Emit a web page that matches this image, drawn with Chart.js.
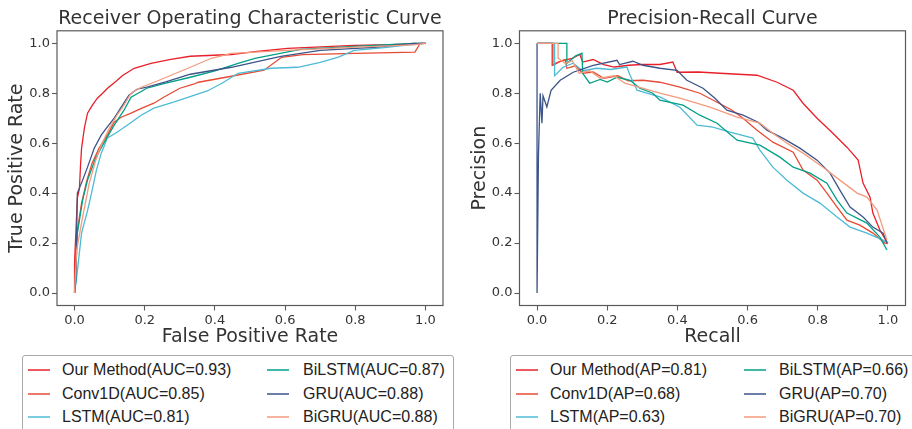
<!DOCTYPE html>
<html><head><meta charset="utf-8">
<script src="https://cdn.jsdelivr.net/npm/chart.js@4/dist/chart.umd.min.js"></script>
<style>
html,body{margin:0;padding:0;background:#fff;width:912px;height:429px;overflow:hidden;}
#wrap{position:relative;width:912px;height:429px;}
.cv{position:absolute;top:0;width:456px;height:350px;}
.legend{position:absolute;top:355px;height:90px;border:1px solid #a8a8a8;border-radius:3px;background:#fff;box-sizing:border-box;}
.lg-line{position:absolute;height:2px;opacity:0.75;}
.lg-text{position:absolute;font-family:'Liberation Sans',Arial,sans-serif;font-size:16px;color:#222;white-space:nowrap;line-height:20px;}
</style></head>
<body><div id="wrap">
<div class="cv" style="left:0"><canvas id="roc" width="456" height="350"></canvas></div>
<div class="cv" style="left:456px"><canvas id="pr" width="456" height="350"></canvas></div>
</div>
<script>
// ---- data ----
const modelNames = ['Our Method','Conv1D','LSTM','BiLSTM','GRU','BiGRU'];
const modelColors = ['#e8202a','#e64b35','#4dbbd5','#00a087','#3c5488','#f39b7f'];
const aucValues = ['0.93','0.85','0.81','0.87','0.88','0.88'];
const apValues = ['0.81','0.68','0.63','0.66','0.70','0.70'];
const tickValues = [0.0,0.2,0.4,0.6,0.8,1.0];

// ROC: [fpr, tpr]
const rocOurMethod = [[0,0],[0,0.12],[0.008,0.38],[0.014,0.42],[0.017,0.51],[0.02,0.58],[0.028,0.66],[0.037,0.72],[0.05,0.75],[0.065,0.78],[0.08,0.80],[0.094,0.82],[0.12,0.85],[0.136,0.87],[0.17,0.90],[0.218,0.92],[0.274,0.936],[0.33,0.948],[0.447,0.955],[0.52,0.968],[0.607,0.98],[0.797,0.992],[0.9,0.995],[1,1]];
const rocConv1D = [[0,0],[0.002,0.12],[0.008,0.25],[0.02,0.36],[0.035,0.45],[0.05,0.52],[0.07,0.58],[0.093,0.632],[0.113,0.684],[0.133,0.704],[0.161,0.72],[0.192,0.74],[0.226,0.76],[0.254,0.784],[0.3,0.82],[0.339,0.836],[0.353,0.844],[0.447,0.868],[0.54,0.892],[0.59,0.944],[0.65,0.955],[0.8,0.96],[0.97,0.965],[0.985,1],[1,1]];
const rocLSTM = [[0,0],[0.005,0.05],[0.02,0.24],[0.037,0.33],[0.05,0.41],[0.062,0.49],[0.076,0.56],[0.085,0.59],[0.093,0.62],[0.121,0.644],[0.15,0.672],[0.19,0.712],[0.226,0.74],[0.282,0.764],[0.325,0.784],[0.38,0.81],[0.42,0.84],[0.466,0.88],[0.56,0.9],[0.636,0.904],[0.70,0.924],[0.75,0.944],[0.797,0.972],[0.89,0.984],[0.94,0.992],[1,1]];
const rocBiLSTM = [[0,0],[0.003,0.05],[0.008,0.24],[0.023,0.372],[0.037,0.452],[0.06,0.54],[0.085,0.604],[0.113,0.672],[0.141,0.732],[0.161,0.784],[0.206,0.82],[0.26,0.84],[0.33,0.864],[0.4,0.89],[0.466,0.92],[0.514,0.94],[0.644,0.976],[0.797,0.988],[0.966,1],[1,1]];
const rocGRU = [[0,0],[0.003,0.04],[0.006,0.24],[0.008,0.40],[0.023,0.452],[0.037,0.504],[0.056,0.58],[0.076,0.632],[0.093,0.664],[0.113,0.70],[0.133,0.744],[0.155,0.792],[0.178,0.816],[0.206,0.824],[0.26,0.845],[0.33,0.876],[0.447,0.904],[0.588,0.948],[0.70,0.972],[0.853,0.984],[0.966,1],[1,1]];
const rocBiGRU = [[0,0],[0.006,0.172],[0.023,0.304],[0.042,0.44],[0.06,0.53],[0.076,0.592],[0.099,0.66],[0.121,0.712],[0.141,0.752],[0.161,0.80],[0.19,0.824],[0.234,0.848],[0.282,0.876],[0.33,0.904],[0.39,0.94],[0.447,0.96],[0.607,0.972],[0.8,0.985],[0.9,0.99],[0.97,0.995],[1,1]];

// PR: [recall, precision]
const prOurMethod = [[0,1],[0.045,1],[0.045,0.912],[0.07,0.93],[0.1,0.94],[0.122,0.955],[0.13,0.925],[0.16,0.935],[0.19,0.915],[0.22,0.905],[0.262,0.912],[0.3,0.915],[0.35,0.915],[0.387,0.925],[0.399,0.884],[0.46,0.885],[0.521,0.88],[0.627,0.872],[0.684,0.844],[0.73,0.812],[0.758,0.76],[0.798,0.70],[0.843,0.64],[0.883,0.584],[0.915,0.532],[0.929,0.44],[0.949,0.384],[0.957,0.32],[0.977,0.252],[0.997,0.204],[1,0.2]];
const prConv1D = [[0,1],[0.043,1],[0.043,0.912],[0.06,0.925],[0.08,0.935],[0.085,0.9],[0.11,0.91],[0.13,0.88],[0.16,0.885],[0.19,0.86],[0.23,0.87],[0.26,0.85],[0.302,0.852],[0.35,0.844],[0.407,0.824],[0.464,0.80],[0.513,0.764],[0.556,0.732],[0.587,0.70],[0.627,0.652],[0.672,0.604],[0.73,0.564],[0.758,0.492],[0.798,0.452],[0.826,0.40],[0.855,0.344],[0.883,0.292],[0.92,0.272],[0.957,0.24],[0.991,0.20],[1,0.198]];
const prLSTM = [[0,1],[0.05,1],[0.05,0.87],[0.074,0.904],[0.103,0.92],[0.13,0.89],[0.17,0.90],[0.21,0.895],[0.256,0.905],[0.265,0.872],[0.285,0.812],[0.313,0.80],[0.35,0.785],[0.407,0.744],[0.456,0.672],[0.501,0.664],[0.55,0.644],[0.615,0.62],[0.635,0.572],[0.672,0.504],[0.712,0.452],[0.758,0.40],[0.806,0.36],[0.855,0.304],[0.892,0.264],[0.94,0.24],[0.986,0.212],[1,0.2]];
const prBiLSTM = [[0,1],[0.085,1],[0.085,0.92],[0.11,0.95],[0.128,0.96],[0.13,0.88],[0.15,0.84],[0.18,0.855],[0.2,0.845],[0.228,0.864],[0.265,0.852],[0.293,0.82],[0.33,0.80],[0.35,0.772],[0.416,0.752],[0.464,0.712],[0.513,0.68],[0.57,0.612],[0.635,0.592],[0.692,0.544],[0.73,0.504],[0.778,0.48],[0.826,0.44],[0.855,0.372],[0.883,0.32],[0.94,0.28],[0.977,0.224],[0.997,0.172]];
const prGRU = [[0,1],[0,0],[0.004,0.55],[0.009,0.80],[0.014,0.68],[0.017,0.79],[0.028,0.745],[0.04,0.812],[0.066,0.852],[0.103,0.884],[0.16,0.912],[0.228,0.932],[0.235,0.915],[0.273,0.928],[0.302,0.912],[0.35,0.90],[0.399,0.892],[0.427,0.852],[0.473,0.82],[0.507,0.78],[0.541,0.732],[0.587,0.712],[0.63,0.684],[0.655,0.652],[0.70,0.62],[0.749,0.58],[0.798,0.532],[0.835,0.48],[0.863,0.412],[0.892,0.344],[0.929,0.304],[0.957,0.264],[0.986,0.24],[0.997,0.20]];
const prBiGRU = [[0,1],[0.06,1],[0.06,0.94],[0.08,0.92],[0.1,0.93],[0.12,0.88],[0.15,0.89],[0.18,0.86],[0.22,0.87],[0.25,0.84],[0.3,0.82],[0.35,0.80],[0.407,0.78],[0.493,0.744],[0.57,0.704],[0.635,0.68],[0.672,0.64],[0.712,0.60],[0.758,0.56],[0.815,0.504],[0.863,0.452],[0.912,0.40],[0.94,0.384],[0.969,0.332],[0.997,0.212]];

const rocSeries = [rocOurMethod, rocConv1D, rocLSTM, rocBiLSTM, rocGRU, rocBiGRU];
const prSeries = [prOurMethod, prConv1D, prLSTM, prBiLSTM, prGRU, prBiGRU];

// ---- chart building ----
const FONT = "'DejaVu Sans', sans-serif";
const TXT = '#333333';
const AX = '#5a5a5a';

const framePlugin = {
  id: 'frame',
  afterDatasetsDraw(chart) {
    const {ctx, chartArea: a} = chart;
    ctx.save();
    ctx.strokeStyle = AX;
    ctx.lineWidth = 1.2;
    ctx.strokeRect(a.left, a.top, a.right - a.left, a.bottom - a.top);
    ctx.restore();
  }
};

function axisCfg(titleText, isY, fitSize, titlePad) {
  return {
    type: 'linear',
    min: -0.05, max: 1.05,
    afterBuildTicks: s => { s.ticks = tickValues.map(v => ({value: v})); },
    afterFit: s => { if (isY) s.width = fitSize; else s.height = fitSize; },
    ticks: {
      font: {family: FONT, size: 13}, color: TXT,
      padding: 2,
      callback: v => Number(v).toFixed(1),
      maxRotation: 0, autoSkip: false
    },
    grid: {display: true, drawOnChartArea: false, drawTicks: true, tickLength: 5, tickColor: AX, tickWidth: 1.1},
    border: {display: false},
    title: {display: true, text: titleText, font: {family: FONT, size: 19}, color: TXT, padding: titlePad}
  };
}

function makeChart(id, series, title, xTitle, yTitle, yWidth, yTitlePad, rightPad) {
  const datasets = series.map((pts, i) => ({
    label: modelNames[i],
    data: pts.map(p => ({x: p[0], y: p[1]})),
    borderColor: modelColors[i],
    borderWidth: 1.3,
    pointRadius: 0,
    fill: false,
    tension: 0,
    order: -i
  }));
  return new Chart(document.getElementById(id), {
    type: 'line',
    data: {datasets},
    options: {
      responsive: false, animation: false, devicePixelRatio: 1,
      layout: {padding: {left: 0, right: rightPad, top: 0, bottom: 0}},
      plugins: {
        legend: {display: false}, tooltip: {enabled: false},
        title: {display: true, text: title, fullSize: false, font: {family: FONT, size: 19, weight: 'normal'}, color: TXT, padding: {top: 8, bottom: 0}}
      },
      scales: {
        x: axisCfg(xTitle, false, 44.5, {top: 0, bottom: 2}),
        y: axisCfg(yTitle, true, yWidth, {top: yTitlePad, bottom: 0})
      }
    },
    plugins: [framePlugin]
  });
}

makeChart('roc', rocSeries, 'Receiver Operating Characteristic Curve', 'False Positive Rate', 'True Positive Rate', 57, 6.1, 13);
makeChart('pr', prSeries, 'Precision-Recall Curve', 'Recall', 'Precision', 63.5, 12.6, 6.5);

// ---- legends (HTML, real text) ----
const rowCenters = [370, 393.5, 417];
function makeLegend(box, cols, metric, vals) {
  const wrap = document.getElementById('wrap');
  const lg = document.createElement('div');
  lg.className = 'legend';
  lg.style.left = box.left + 'px';
  lg.style.width = box.width + 'px';
  wrap.appendChild(lg);
  modelNames.forEach((name, i) => {
    const c = cols[Math.floor(i / 3)];
    const yc = rowCenters[i % 3];
    const ln = document.createElement('div');
    ln.className = 'lg-line';
    ln.style.left = c.line0 + 'px';
    ln.style.width = (c.line1 - c.line0) + 'px';
    ln.style.top = Math.round(yc - 1) + 'px';
    ln.style.backgroundColor = modelColors[i];
    wrap.appendChild(ln);
    const tx = document.createElement('div');
    tx.className = 'lg-text';
    tx.style.left = c.text + 'px';
    tx.style.top = (yc - 10) + 'px';
    tx.textContent = name + '(' + metric + '=' + vals[i] + ')';
    wrap.appendChild(tx);
  });
}
makeLegend({left: 22, width: 432}, [{line0: 28, line1: 50, text: 62}, {line0: 267, line1: 289, text: 303}], 'AUC', aucValues);
makeLegend({left: 510, width: 420}, [{line0: 516, line1: 538, text: 550}, {line0: 744, line1: 766, text: 779}], 'AP', apValues);
</script>
</body></html>
